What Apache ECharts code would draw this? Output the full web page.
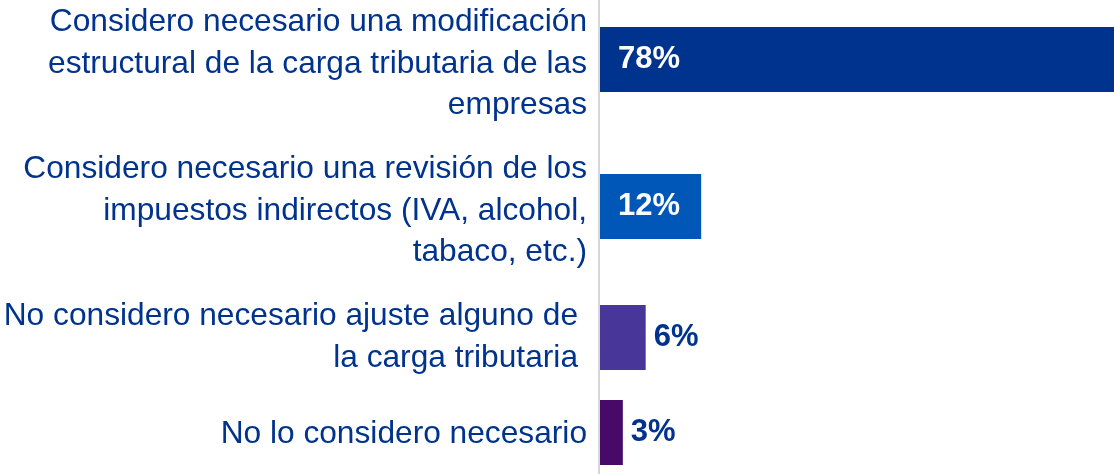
<!DOCTYPE html>
<html>
<head>
<meta charset="utf-8">
<script src="https://cdn.jsdelivr.net/npm/echarts@6/dist/echarts.min.js"></script>
<style>
  html, body { margin: 0; padding: 0; background: #fff; }
  #chart { width: 1114px; height: 474px; }
</style>
</head>
<body>
<div id="chart"></div>
<script>
const categories = [
  "Considero necesario una modificación\nestructural de la carga tributaria de las\nempresas",
  "Considero necesario una revisión de los\nimpuestos indirectos (IVA, alcohol,\ntabaco, etc.)",
  "No considero necesario ajuste alguno de\nla carga tributaria",
  "No lo considero necesario",
];
const values = [78, 12.4, 5.6, 2.8];
const xMax = 63;

const COLORS = {
  text: "#00338d",
  axis: "#d6d6d6",
  bars: ["#00338d", "#0057b8", "#483698", "#470a68"],
};
const FONT = "'Liberation Sans', Arial, sans-serif";
const LINE_H = 41.5;

// each answer sits in its own row; rows are taller for longer labels
const rows = [
  { top: 27, margin: 13, nudge: 9, inside: true },
  { top: 174, margin: 13, nudge: 9, inside: true },
  { top: 305, margin: 22, nudge: 0, inside: false },
  { top: 400, margin: 13, nudge: 3, inside: false },
];

const grid = [];
const xAxis = [];
const yAxis = [];
const series = [];

rows.forEach((row, i) => {
  // top padding on every line pushes the label block down a few pixels
  const lineStyle = {
    color: COLORS.text,
    fontFamily: FONT,
    fontSize: 31.7,
    lineHeight: LINE_H,
    padding: [row.nudge, 0, 0, 0],
  };
  grid.push({ left: 600, right: 0, top: row.top, height: 65, outerBoundsMode: "none", containLabel: false });
  xAxis.push({ gridIndex: i, type: "value", min: 0, max: xMax, show: false });
  yAxis.push({
    gridIndex: i,
    type: "category",
    data: [categories[i]],
    axisLine: { show: false },
    axisTick: { show: false },
    axisLabel: {
      color: COLORS.text,
      fontFamily: FONT,
      fontSize: 31.7,
      lineHeight: LINE_H,
      margin: row.margin,
      align: "right",
      formatter: (val) => val.split("\n").map((line) => `{t|${line}}`).join("\n"),
      rich: { t: lineStyle },
    },
  });
  series.push({
    type: "bar",
    xAxisIndex: i,
    yAxisIndex: i,
    barWidth: 65,
    clip: true,
    silent: true,
    data: [{ value: values[i], itemStyle: { color: COLORS.bars[i] } }],
    label: {
      show: true,
      position: row.inside ? "insideLeft" : "right",
      distance: row.inside ? 18 : 8,
      formatter: (p) => `${Math.round(p.value)}%`,
      color: row.inside ? "#ffffff" : COLORS.text,
      fontFamily: FONT,
      fontWeight: "bold",
      fontSize: 31,
    },
  });
});

// vertical divider line running the full height
grid.push({ left: 599, right: 0, top: 0, bottom: 0, outerBoundsMode: "none" });
xAxis.push({ gridIndex: 4, type: "value", show: false });
yAxis.push({
  gridIndex: 4,
  type: "value",
  axisLine: { show: true, lineStyle: { color: COLORS.axis, width: 2 } },
  axisTick: { show: false },
  axisLabel: { show: false },
  splitLine: { show: false },
});

const chart = echarts.init(document.getElementById("chart"));
chart.setOption({
  animation: false,
  backgroundColor: "#ffffff",
  grid,
  xAxis,
  yAxis,
  series,
});
</script>
</body>
</html>
